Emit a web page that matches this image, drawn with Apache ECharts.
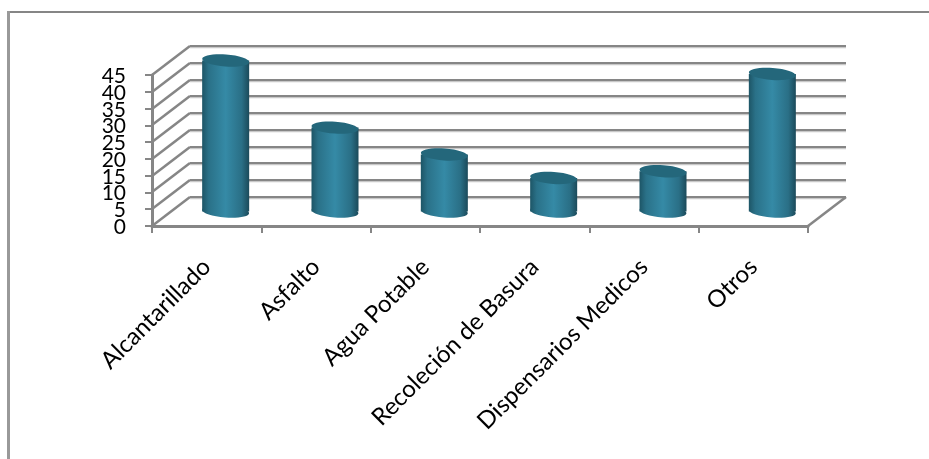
<!DOCTYPE html>
<html><head><meta charset="utf-8">
<style>html,body{margin:0;padding:0;background:#fff}#c{width:929px;height:459px}</style>
<script src="https://cdn.jsdelivr.net/npm/echarts@6/dist/echarts.min.js"></script>
</head><body><div id="c"></div>
<script>
var categories = ['Alcantarillado','Asfalto','Agua Potable','Recoleción de Basura','Dispensarios Medicos','Otros'];
var values = [45, 25, 17, 10, 12, 41];
var yTicks = [0,5,10,15,20,25,30,35,40,45];
var DX = 38, DY = -29;
var chart = echarts.init(document.getElementById('c'), null, {renderer:'canvas'});
var bodyGrad = {type:'linear',x:0,y:0,x2:1,y2:0,colorStops:[
 {offset:0,color:'#1d5566'},{offset:0.14,color:'#2a7188'},{offset:0.5,color:'#358aa6'},
 {offset:0.84,color:'#2a6f86'},{offset:1,color:'#1b4a5a'}]};
function renderWall(params, api){
  var v = api.value(0);
  var p = api.coord([0, v]);
  var rect = params.coordSys;
  var x0 = rect.x, x1 = rect.x + rect.width, y = Math.round(p[1]);
  var ls = {stroke:'#868686', lineWidth:2.5};
  var by = y + DY;
  var children = [
    {type:'line',shape:{x1:x0,y1:y,x2:x0+DX,y2:by},style:ls},
    {type:'line',shape:{x1:x0+DX,y1:by+1.5,x2:x1+DX,y2:by+1.5},style:{stroke:'#c8c8c8',lineWidth:1.5}},
    {type:'line',shape:{x1:x0+DX,y1:by,x2:x1+DX,y2:by},style:{stroke:'#868686',lineWidth:2}},
    {type:'text',x:x0-26,y:y+1,style:{text:String(v),fill:'#000',font:'21px Lato',textAlign:'right',textVerticalAlign:'middle'}}
  ];
  if (v === 0) children.push({type:'line',shape:{x1:x1,y1:y,x2:x1+DX,y2:by},style:ls});
  return {type:'group',children:children};
}
function renderCyl(params, api){
  var top = api.coord([api.value(0), api.value(1)]);
  var bot = api.coord([api.value(0), 0]);
  var w = api.size([1,0])[0]*0.43;
  var rx = w/2, ry = 6, ox = DX/2, oy = DY/2;
  var cx = top[0]+ox, ty = top[1]+oy, by = bot[1]+oy;
  var rot = -0.07;
  return {type:'group',children:[
    {type:'ellipse',x:cx,y:by,rotation:rot,shape:{cx:0,cy:0,rx:rx,ry:ry},style:{fill:bodyGrad}},
    {type:'rect',shape:{x:cx-rx,y:ty,width:w,height:by-ty},style:{fill:bodyGrad}},
    {type:'ellipse',x:cx,y:ty,rotation:rot,shape:{cx:0,cy:0,rx:rx,ry:ry},style:{fill:'#24677b'}}
  ]};
}
chart.setOption({
  animation:false,
  backgroundColor:'#fff',
  textStyle:{fontFamily:'Lato'},
  graphic:[
    {type:'line',shape:{x1:7,y1:12,x2:929,y2:12},style:{stroke:'#868686',lineWidth:2}},
    {type:'line',shape:{x1:8.5,y1:11,x2:8.5,y2:459},style:{stroke:'#999',lineWidth:3}}
  ],
  grid:{left:152,top:75,width:656,height:151,containLabel:false},
  xAxis:{type:'category',data:categories,boundaryGap:true,
    axisLine:{lineStyle:{color:'#868686',width:3}},
    axisTick:{show:true,alignWithLabel:false,length:7,lineStyle:{color:'#868686',width:2}},
    axisLabel:{rotate:45,interval:0,hideOverlap:false,fontSize:24,color:'#000',margin:37,fontFamily:'Lato'},
    splitLine:{show:false}},
  yAxis:{type:'value',min:0,max:45,interval:5,
    axisLine:{show:true,lineStyle:{color:'#868686',width:3}},
    axisTick:{show:true,length:7,lineStyle:{color:'#868686',width:2}},
    axisLabel:{show:false},
    splitLine:{show:false}},
  series:[
    {type:'custom',coordinateSystem:'cartesian2d',renderItem:renderWall,silent:true,clip:false,z:1,
     encode:{y:0},data:yTicks.map(function(v){return [v];})},
    {type:'custom',coordinateSystem:'cartesian2d',renderItem:renderCyl,silent:true,clip:false,z:3,
     encode:{x:0,y:1},data:values.map(function(v,i){return [i,v];})}
  ]
});
</script></body></html>
